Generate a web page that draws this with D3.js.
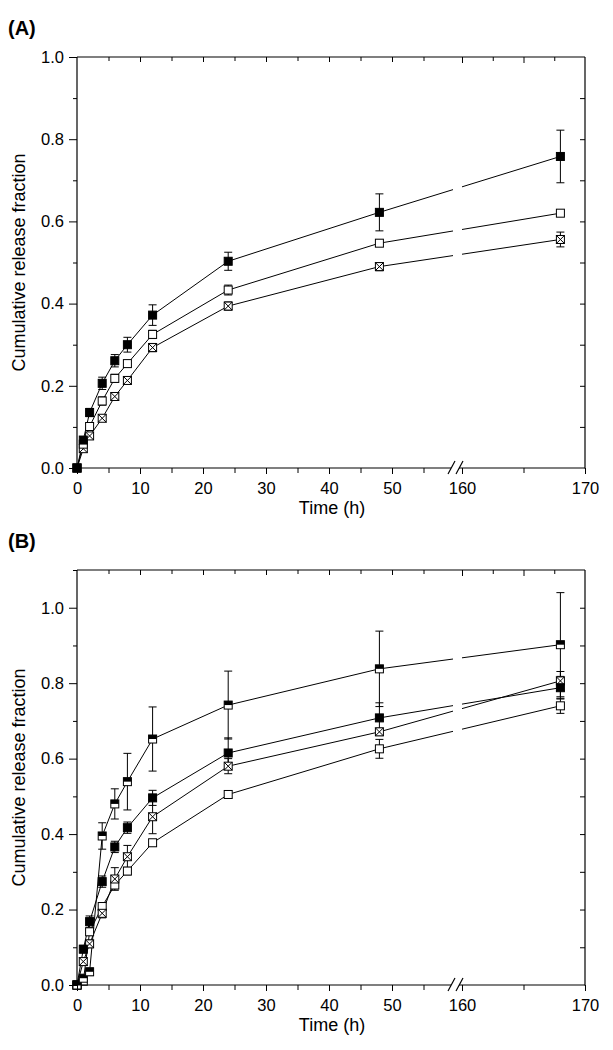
<!DOCTYPE html>
<html><head><meta charset="utf-8">
<script src="https://cdn.jsdelivr.net/npm/d3@7"></script>
<style>
body{margin:0;background:#fff;}
svg{display:block;font-family:"Liberation Sans",Arial,Helvetica,sans-serif;}
</style></head>
<body>
<svg id="chart" width="613" height="1050"></svg>
<script>
// ---------- data ----------
const times = [0, 1, 2, 4, 6, 8, 12, 24, 48, 168];
const xTicksLeft = [0, 10, 20, 30, 40, 50];
const xMinorLeft = [5, 15, 25, 35, 45, 55];
const xTicksRight = [160, 170];
const xMinorRight = [165];
const yTicks = [0, 0.2, 0.4, 0.6, 0.8, 1.0];

// Panel A
const aFilled    = [0, 0.068, 0.135, 0.206, 0.261, 0.300, 0.372, 0.503, 0.622, 0.758];
const aFilledErr = [0, 0.008, 0.010, 0.015, 0.015, 0.018, 0.025, 0.022, 0.045, 0.064];
const aOpen      = [0, 0.058, 0.101, 0.163, 0.218, 0.254, 0.325, 0.433, 0.547, 0.620];
const aOpenErr   = [0, 0.005, 0.008, 0.010, 0.010, 0.008, 0.010, 0.012, 0.008, 0.005];
const aCrossed   = [0, 0.047, 0.078, 0.121, 0.174, 0.213, 0.293, 0.394, 0.490, 0.556];
const aCrossedErr= [0, 0.006, 0.008, 0.006, 0.008, 0.008, 0.010, 0.010, 0.010, 0.018];

// Panel B
const bHalf      = [0, 0.018, 0.035, 0.395, 0.480, 0.539, 0.652, 0.742, 0.838, 0.902];
const bHalfErr   = [0, 0.008, 0.010, 0.035, 0.040, 0.075, 0.085, 0.090, 0.100, 0.138];
const bFilled    = [0, 0.095, 0.168, 0.274, 0.366, 0.417, 0.496, 0.615, 0.708, 0.788];
const bFilledErr = [0, 0.010, 0.015, 0.015, 0.015, 0.015, 0.020, 0.040, 0.040, 0.030];
const bCrossed   = [0, 0.062, 0.109, 0.190, 0.281, 0.340, 0.446, 0.580, 0.671, 0.806];
const bCrossedErr= [0, 0.010, 0.010, 0.012, 0.030, 0.030, 0.045, 0.020, 0.010, 0.025];
const bOpen      = [0, 0.010, 0.141, 0.208, 0.265, 0.302, 0.377, 0.505, 0.626, 0.740];
const bOpenErr   = [0, 0.005, 0.010, 0.010, 0.010, 0.010, 0.008, 0.010, 0.025, 0.020];

// ---------- drawing ----------
const svg = d3.select("#chart");
const L = 77, R = 585, BREAK_L = 453, BREAK_R = 462;
const xL = d3.scaleLinear().domain([0, 60]).range([L, 455]);
const xR = d3.scaleLinear().domain([160, 170]).range([BREAK_R, R]);
const xs = t => (t <= 60 ? xL(t) : xR(t));
const TICK_FONT = "16.5px", TITLE_FONT = "18px";

function panel(id, label, top, bottom, yMax, series) {
  const g = svg.append("g");
  const y = d3.scaleLinear().domain([0, yMax]).range([bottom, top]);

  // clip for lines (gap at break)
  const clip = svg.append("defs").append("clipPath").attr("id", "clip" + id);
  clip.append("rect").attr("x", L).attr("y", top - 20).attr("width", BREAK_L - L).attr("height", bottom - top + 40);
  clip.append("rect").attr("x", BREAK_R).attr("y", top - 20).attr("width", R - BREAK_R + 10).attr("height", bottom - top + 40);

  const line = d3.line().x((d, i) => xs(times[i])).y(d => y(d));
  series.forEach(s => {
    g.append("path").attr("d", line(s.v)).attr("fill", "none")
      .attr("stroke", "#000").attr("stroke-width", 1).attr("clip-path", `url(#clip${id})`);
  });
  // error bars
  series.forEach(s => {
    s.v.forEach((v, i) => {
      const e = s.e[i];
      if (!e || e < 0.004) return;
      const cx = xs(times[i]);
      g.append("line").attr("x1", cx).attr("x2", cx).attr("y1", y(v - e)).attr("y2", y(v + e))
        .attr("stroke", "#000").attr("stroke-width", 1);
      [v - e, v + e].forEach(w => g.append("line").attr("x1", cx - 4).attr("x2", cx + 4)
        .attr("y1", y(w)).attr("y2", y(w)).attr("stroke", "#000").attr("stroke-width", 1));
    });
  });
  // markers
  const S = 8;
  series.forEach(s => {
    s.v.forEach((v, i) => {
      const cx = xs(times[i]), cy = y(v);
      const m = g.append("g");
      m.append("rect").attr("x", cx - S / 2).attr("y", cy - S / 2).attr("width", S).attr("height", S)
        .attr("fill", s.type === "filled" ? "#000" : "#fff").attr("stroke", "#000").attr("stroke-width", 1);
      if (s.type === "half") {
        m.append("rect").attr("x", cx - S / 2).attr("y", cy - S / 2).attr("width", S).attr("height", S / 2)
          .attr("fill", "#000");
      }
      if (s.type === "crossed") {
        m.append("path").attr("d", `M${cx - S/2},${cy - S/2}L${cx + S/2},${cy + S/2}M${cx + S/2},${cy - S/2}L${cx - S/2},${cy + S/2}`)
          .attr("stroke", "#000").attr("stroke-width", 1);
      }
    });
  });

  // axes
  const style = sel => {
    sel.select(".domain").remove();
    sel.selectAll("line").attr("stroke", "#000").attr("stroke-width", 1);
    sel.selectAll("text").attr("fill", "#000").attr("font-size", TICK_FONT);
  };
  // left
  g.append("g").attr("transform", `translate(${L},0)`)
    .call(d3.axisLeft(y).tickValues(yTicks).tickFormat(d3.format(".1f")).tickSize(8).tickPadding(5)).call(style);
  const yMinor = d3.range(1, Math.round(yMax * 10) + 1, 2).map(k => k / 10);
  g.append("g").attr("transform", `translate(${L},0)`)
    .call(d3.axisLeft(y).tickValues(yMinor).tickFormat("").tickSize(4)).call(style);
  // right
  const yAll = d3.range(1, Math.round(yMax * 10)).map(k => k / 10);
  g.append("g").attr("transform", `translate(${R},0)`)
    .call(d3.axisRight(y).tickValues(yAll).tickFormat("").tickSize(-5)).call(style);
  // bottom
  g.append("g").attr("transform", `translate(0,${bottom})`)
    .call(d3.axisBottom(xL).tickValues(xTicksLeft).tickSize(6).tickPadding(8)).call(style);
  g.append("g").attr("transform", `translate(0,${bottom})`)
    .call(d3.axisBottom(xL).tickValues(xMinorLeft).tickFormat("").tickSize(5)).call(style);
  g.append("g").attr("transform", `translate(0,${bottom})`)
    .call(d3.axisBottom(xR).tickValues(xTicksRight).tickSize(6).tickPadding(8)).call(style);
  g.append("g").attr("transform", `translate(0,${bottom})`)
    .call(d3.axisBottom(xR).tickValues(xMinorRight).tickFormat("").tickSize(5)).call(style);
  // top
  g.append("g").attr("transform", `translate(0,${top})`)
    .call(d3.axisTop(xL).tickValues([10, 20, 30, 40, 50]).tickFormat("").tickSize(-5)).call(style);
  g.append("g").attr("transform", `translate(0,${top})`)
    .call(d3.axisTop(xL).tickValues(xMinorLeft).tickFormat("").tickSize(-4)).call(style);
  g.append("g").attr("transform", `translate(0,${top})`)
    .call(d3.axisTop(xR).tickValues([160, 165]).tickFormat("").tickSize(-6)).call(style);
  g.append("g").attr("transform", `translate(0,${top})`)
    .call(d3.axisTop(xR).tickValues([162.5, 167.5]).tickFormat("").tickSize(-4)).call(style);

  // frame lines
  const ln = (x1, y1, x2, y2) => g.append("line").attr("x1", x1).attr("y1", y1).attr("x2", x2).attr("y2", y2)
    .attr("stroke", "#000").attr("stroke-width", 1.2);
  ln(L, top, L, bottom + 0.5);
  ln(R, top, R, bottom + 0.5);
  ln(L, top, R, top);
  ln(L, bottom, 451, bottom);
  ln(459, bottom, R, bottom);
  // break marks
  ln(448, bottom + 6, 455, bottom - 7);
  ln(456, bottom + 6, 463, bottom - 7);

  // titles
  g.append("text").attr("x", 8).attr("y", top - 22).attr("font-size", "20px").attr("font-weight", "bold")
    .text(label);
  g.append("text").attr("x", (L + R) / 2 + 1).attr("y", bottom + 46).attr("text-anchor", "middle")
    .attr("font-size", TITLE_FONT).text("Time (h)");
  g.append("text").attr("transform", `translate(25,${(top + bottom) / 2}) rotate(-90)`)
    .attr("text-anchor", "middle").attr("font-size", TITLE_FONT).text("Cumulative release fraction");
}

panel("A", "(A)", 57, 468, 1.0, [
  { v: aCrossed, e: aCrossedErr, type: "crossed" },
  { v: aOpen, e: aOpenErr, type: "open" },
  { v: aFilled, e: aFilledErr, type: "filled" }
]);
panel("B", "(B)", 570, 985, 1.1, [
  { v: bOpen, e: bOpenErr, type: "open" },
  { v: bCrossed, e: bCrossedErr, type: "crossed" },
  { v: bFilled, e: bFilledErr, type: "filled" },
  { v: bHalf, e: bHalfErr, type: "half" }
]);
</script>
</body></html>
